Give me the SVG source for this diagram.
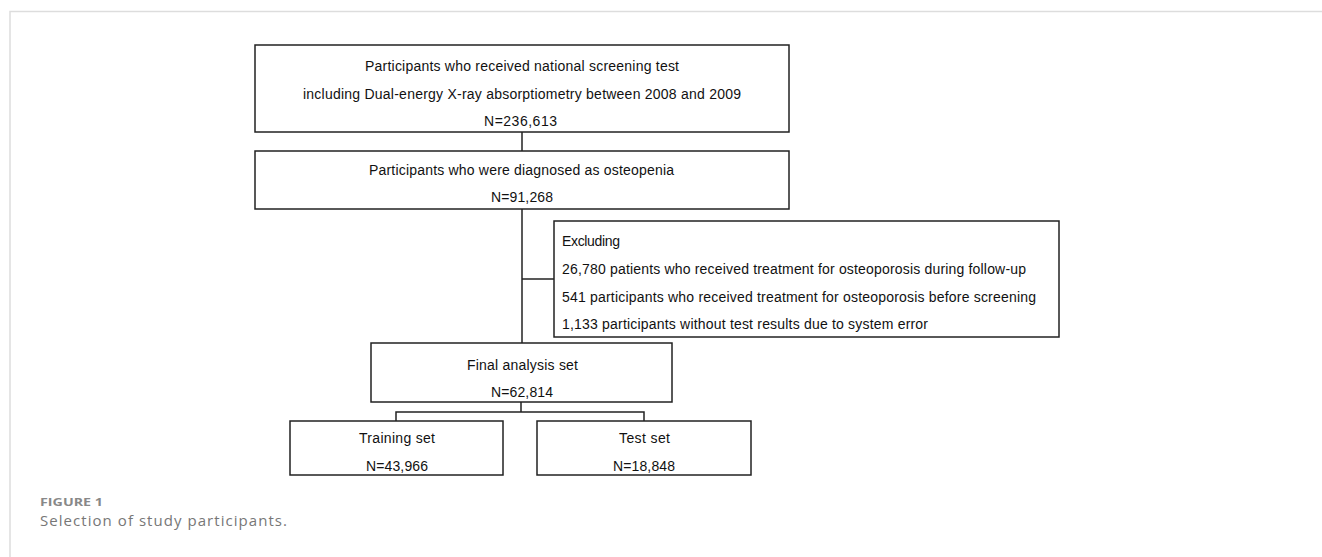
<svg xmlns="http://www.w3.org/2000/svg" width="1322" height="557" viewBox="0 0 1322 557">
<style>
.box{fill:#fff;stroke:#222;stroke-width:1.5}
.t{font-family:"Liberation Sans",Arial,sans-serif;font-size:14px;fill:#111}
.ln{fill:none;stroke:#222;stroke-width:1.5}
.frame{fill:none;stroke:#ddd;stroke-width:1.5}
.cap1{font-family:"Open Sans","Liberation Sans",sans-serif;font-size:11px;font-weight:bold;fill:#888}
.cap2{font-family:"Open Sans","Liberation Sans",sans-serif;font-size:15px;fill:#777}
</style>
<rect width="1322" height="557" fill="#fff"/>
<path class="frame" d="M10,557 V11.5 H1322"/>
<g id="connectors">
<path class="ln" d="M522,132 V151"/>
<path class="ln" d="M522,209 V343"/>
<path class="ln" d="M522,279 H554"/>
<path class="ln" d="M521,402 V412 M396,421 V412 H644 V421"/>
</g>
<g id="n1">
<rect class="box" x="255" y="45" width="534" height="87"/>
<text class="t" x="365" y="71" textLength="314" lengthAdjust="spacing">Participants who received national screening test</text>
<text class="t" x="303" y="99" textLength="438" lengthAdjust="spacing">including Dual-energy X-ray absorptiometry between 2008 and 2009</text>
<text class="t" x="484" y="126" textLength="73" lengthAdjust="spacing">N=236,613</text>
</g>
<g id="n2">
<rect class="box" x="255" y="151" width="534" height="58"/>
<text class="t" x="369" y="175" textLength="305" lengthAdjust="spacing">Participants who were diagnosed as osteopenia</text>
<text class="t" x="491" y="202" textLength="62" lengthAdjust="spacing">N=91,268</text>
</g>
<g id="excl">
<rect class="box" x="554" y="221" width="505" height="116"/>
<text class="t" x="562" y="246" textLength="58" lengthAdjust="spacing">Excluding</text>
<text class="t" x="562" y="274" textLength="464" lengthAdjust="spacing">26,780 patients who received treatment for osteoporosis during follow-up</text>
<text class="t" x="562" y="302" textLength="474" lengthAdjust="spacing">541 participants who received treatment for osteoporosis before screening</text>
<text class="t" x="562" y="329" textLength="366" lengthAdjust="spacing">1,133 participants without test results due to system error</text>
</g>
<g id="final">
<rect class="box" x="371" y="343" width="301" height="59"/>
<text class="t" x="467" y="370" textLength="111" lengthAdjust="spacing">Final analysis set</text>
<text class="t" x="491" y="397" textLength="62" lengthAdjust="spacing">N=62,814</text>
</g>
<g id="train">
<rect class="box" x="290" y="421" width="213" height="54"/>
<text class="t" x="359" y="443" textLength="76" lengthAdjust="spacing">Training set</text>
<text class="t" x="366" y="471" textLength="62" lengthAdjust="spacing">N=43,966</text>
</g>
<g id="test">
<rect class="box" x="537" y="421" width="214" height="54"/>
<text class="t" x="619" y="443" textLength="51" lengthAdjust="spacing">Test set</text>
<text class="t" x="613" y="471" textLength="62" lengthAdjust="spacing">N=18,848</text>
</g>
<text class="cap1" x="40" y="506" textLength="63" lengthAdjust="spacingAndGlyphs">FIGURE 1</text>
<text class="cap2" x="40" y="526" textLength="247" lengthAdjust="spacing">Selection of study participants.</text>
</svg>
